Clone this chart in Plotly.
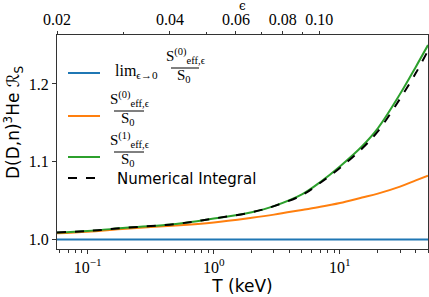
import plotly.graph_objects as go

# ---- data ----
T_keV = [0.057, 0.1, 0.2, 0.5, 1, 2, 3, 5, 7, 10, 15, 20, 30, 40, 50]
lim_eps0 = [1.0] * len(T_keV)
S_eff0 = [1.008, 1.010, 1.014, 1.018, 1.022, 1.028, 1.032, 1.038, 1.042, 1.047,
          1.054, 1.059, 1.068, 1.076, 1.082]
S_eff1 = [1.009, 1.011, 1.015, 1.020, 1.027, 1.035, 1.043, 1.058, 1.074, 1.094,
          1.120, 1.143, 1.187, 1.222, 1.250]
numerical = [1.009, 1.011, 1.015, 1.020, 1.027, 1.035, 1.043, 1.057, 1.073, 1.092,
             1.117, 1.139, 1.181, 1.214, 1.243]

eps_range = [0.02, 0.195]
eps_ticks = [0.02, 0.04, 0.06, 0.08, 0.10]
eps_ticktext = ["0.02", "0.04", "0.06", "0.08", "0.10"]
eps_minor = [0.03, 0.05, 0.07, 0.09]

T_ticks = [0.1, 1, 10]
T_ticktext = ["10<sup>−1</sup>", "10<sup>0</sup>", "10<sup>1</sup>"]
T_minor = [0.06, 0.07, 0.08, 0.09, 0.2, 0.3, 0.4, 0.5, 0.6, 0.7, 0.8, 0.9,
           2, 3, 4, 5, 6, 7, 8, 9, 20, 30, 40, 50]
y_ticks = [1.0, 1.1, 1.2]
y_ticktext = ["1.0", "1.1", "1.2"]

colors = ["#1f77b4", "#ff7f0e", "#2ca02c", "black"]
names = ["lim S(0)/S0", "S(0)/S0", "S(1)/S0", "Numerical Integral"]

fig = go.Figure()
series = [lim_eps0, S_eff0, S_eff1, numerical]
for i, ys in enumerate(series):
    fig.add_trace(go.Scatter(
        x=T_keV, y=ys, mode="lines", name=names[i], showlegend=False,
        line=dict(color=colors[i], width=2, shape="spline",
                  dash="dash" if i == 3 else "solid")))
# invisible trace to carry the top epsilon axis
fig.add_trace(go.Scatter(x=eps_range, y=[1.0, 1.0], xaxis="x2", mode="lines",
                         line=dict(width=0), showlegend=False, hoverinfo="skip"))

# ---- hand-built legend (matplotlib style with stacked fractions) ----
L, R, TOP, BOT = 57, 428, 35, 249


def X(px):
    return (px - L) / (R - L)


def Y(py):
    return (BOT - py) / (BOT - TOP)


shapes = []
annotations = []
SERIF = "Liberation Serif, DejaVu Serif, serif"


def text(t, px, py, xanchor="center", size=15, family=SERIF, angle=0):
    annotations.append(dict(text=t, xref="paper", yref="paper", x=X(px), y=Y(py),
                            xanchor=xanchor, yanchor="middle", showarrow=False,
                            textangle=angle, borderpad=0,
                            font=dict(family=family, size=size, color="black")))


def fraction(num, cx, bar_y, half):
    text(num, cx + 1, bar_y - 12)
    shapes.append(dict(type="line", xref="paper", yref="paper",
                       x0=X(cx - half), x1=X(cx + half), y0=Y(bar_y), y1=Y(bar_y),
                       line=dict(color="black", width=1)))
    text("S<sub>0</sub>", cx - 1, bar_y + 8)


handle_y = [73, 116, 157, 178]
for i, hy in enumerate(handle_y):
    shapes.append(dict(type="line", xref="paper", yref="paper",
                       x0=X(68), x1=X(100), y0=Y(hy), y1=Y(hy),
                       line=dict(color=colors[i], width=2,
                                 dash="dash" if i == 3 else "solid")))

num0 = "S<sup>(0)</sup><sub>eff,ϵ</sub>"
num1 = "S<sup>(1)</sup><sub>eff,ϵ</sub>"
text("lim<sub>ϵ→0</sub>", 114, 71, xanchor="left", size=16)
fraction(num0, 185, 68, 14)
fraction(num0, 129, 111, 15)
fraction(num1, 129, 152, 15)
text("Numerical Integral", 116, 179, xanchor="left", size=15, family="DejaVu Sans")

# axis labels
text("ϵ", 242, 6, size=12, family="DejaVu Serif")
text("D(D,n)<sup>3</sup>He ℛ<sub>S</sub>", 13, 123, size=17, family="DejaVu Sans",
     angle=-90)

tickfont = dict(family=SERIF, size=16, color="black")
axcol = "#333333"

fig.update_layout(
    width=429, height=297,
    margin=dict(l=L, r=429 - R, t=TOP, b=297 - BOT),
    plot_bgcolor="white", paper_bgcolor="white",
    hovermode=False, showlegend=False,
    shapes=shapes, annotations=annotations,
    xaxis=dict(type="log", range=[-1.244, 1.699], automargin=False,
               tickvals=T_ticks, ticktext=T_ticktext, ticks="outside",
               ticklen=4, tickwidth=1, tickcolor=axcol,
               minor=dict(tickvals=T_minor, ticks="outside", ticklen=2.5,
                          tickwidth=0.8, tickcolor=axcol),
               showline=True, linecolor=axcol, linewidth=1, mirror=True,
               showgrid=False, zeroline=False, tickfont=tickfont,
               title=dict(text="T (keV)", standoff=4,
                          font=dict(family="DejaVu Sans", size=17, color="black"))),
    xaxis2=dict(type="log", overlaying="x", side="top", automargin=False,
                range=[-1.69897, -0.70997],
                tickvals=eps_ticks, ticktext=eps_ticktext, ticks="outside",
                ticklen=3, tickwidth=1, tickcolor=axcol,
                minor=dict(tickvals=eps_minor, ticks="outside", ticklen=2.5,
                           tickwidth=0.8, tickcolor=axcol),
                showline=True, linecolor=axcol, linewidth=1,
                showgrid=False, zeroline=False, tickfont=tickfont),
    yaxis=dict(range=[0.9878, 1.263], tickvals=y_ticks, ticktext=y_ticktext,
               automargin=False,
               ticks="outside", ticklen=4, tickwidth=1, tickcolor=axcol,
               showline=True, linecolor=axcol, linewidth=1, mirror=True,
               showgrid=False, zeroline=False, tickfont=tickfont),
)

fig.write_html("out.html", config={"displayModeBar": False},
               post_script="document.body.style.margin='0';")
